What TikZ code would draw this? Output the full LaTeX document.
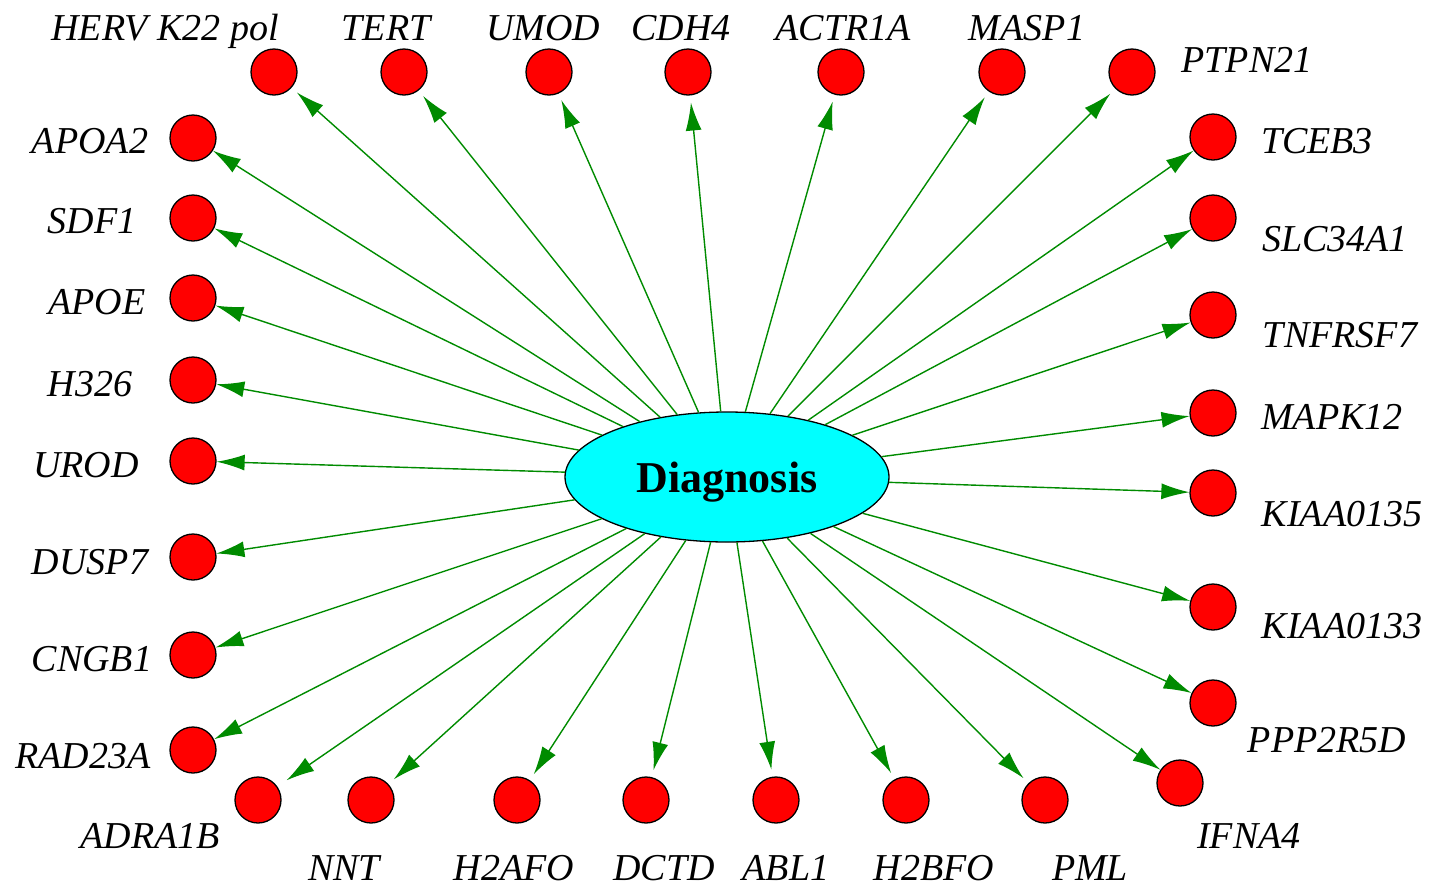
\documentclass[tikz,border=0pt]{standalone}
\usepackage{fontspec}
\setmainfont{Liberation Serif}
\usetikzlibrary{arrows.meta, shapes.geometric}
\definecolor{edgegreen}{RGB}{0,139,0}
\definecolor{dxcyan}{RGB}{0,255,255}
\tikzset{
  gene/.style={circle, draw, fill=red, line width=1.3pt, minimum size=46pt, inner sep=0pt},
  genelabel/.style={font=\fontsize{38}{40}\selectfont\itshape, anchor=base, inner sep=0pt},
  edge/.style={draw=edgegreen, line width=1.4pt, -{Latex[length=28pt,width=16pt]}},
  gap/.style={shorten >=7pt},
}

\begin{document}
\begin{tikzpicture}[x=1pt, y=-1pt]
\useasboundingbox (0,0) rectangle (1430,887);
\node[ellipse, draw, fill=dxcyan, line width=1.3pt, minimum width=324pt, minimum height=130pt, text depth=0pt,
  font=\fontsize{44}{46}\selectfont\bfseries] (dx) at (727,477) {Diagnosis};
\foreach \n/\x/\y/\lx/\ly/\t in {
  herv/274/72/165/40/{HERV K22 pol}, tert/404/72/386/40/TERT, umod/549/72/543/40/UMOD,
  cdh4/688/72/681/40/CDH4, actr1a/841/72/843/40/ACTR1A, masp1/1002/72/1027/40/MASP1,
  ptpn21/1132/72/1247/72/PTPN21,
  apoa2/193/138/90/153/APOA2, sdf1/193/218/92/233/SDF1, apoe/193/298/97/314/APOE,
  h326/193/380/90/396/H326, urod/193/461/86/477/UROD, dusp7/193/557/90/574/DUSP7,
  cngb1/193/655/92/671/CNGB1, rad23a/193/750/83/768/RAD23A,
  tceb3/1213/137/1317/153/TCEB3, slc34a1/1213/218/1335/251/SLC34A1,
  tnfrsf7/1213/315/1340/347/TNFRSF7, mapk12/1213/413/1332/429/MAPK12,
  kiaa0135/1213/493/1342/526/KIAA0135, kiaa0133/1213/607/1342/638/KIAA0133,
  ppp2r5d/1213/703/1327/752/PPP2R5D, ifna4/1180/783/1249/848/IFNA4,
  adra1b/258/800/150/848/ADRA1B, nnt/371/800/344/880/NNT, h2afo/517/800/514/880/H2AFO,
  dctd/646/800/664/880/DCTD, abl1/776/800/786/880/ABL1, h2bfo/906/800/934/880/H2BFO,
  pml/1045/800/1090/880/PML}
{
  \node[gene] (\n) at (\x,\y) {};
  \node[genelabel] (\n-l) at (\lx,\ly) {\t};
}
\foreach \n in {apoa2, sdf1, apoe, h326, urod, dusp7, cngb1, rad23a,
  tceb3, slc34a1, tnfrsf7, mapk12, kiaa0135, kiaa0133, ppp2r5d, ifna4}
  \draw[edge] (dx) -- (\n);
\foreach \n in {herv, tert, umod, cdh4, actr1a, masp1, ptpn21,
  nnt, h2afo, dctd, abl1, h2bfo, pml}
  \draw[edge, gap] (dx) -- (\n);
\draw[edge, shorten >=11pt] (dx) -- (adra1b);
\end{tikzpicture}
\end{document}
